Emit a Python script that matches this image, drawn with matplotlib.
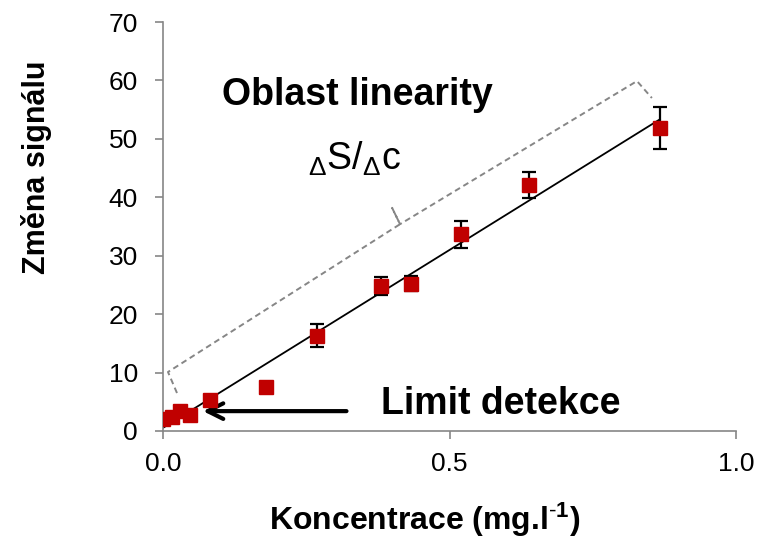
import numpy as np
import matplotlib as mlib
mlib.use('Agg')
import matplotlib.pyplot as plt

mlib.rcParams.update({'font.family': ['Liberation Sans', 'DejaVu Sans']})
mlib.rcParams.update({'mathtext.fontset': 'custom',
                      'mathtext.default': 'regular',
                      'mathtext.rm': 'Liberation Sans',
                      'mathtext.it': 'Liberation Sans:italic',
                      'mathtext.bf': 'Liberation Sans:bold'})

# concentration (mg/l) and signal change
konc = [0.0, 0.016, 0.030, 0.047, 0.082, 0.179, 0.269, 0.380, 0.433, 0.520, 0.639, 0.867]
signal = [2.05, 2.4, 3.4, 2.7, 5.3, 7.5, 16.3, 24.8, 25.2, 33.7, 42.1, 51.9]
err = [0, 0, 0, 0, 0, 0, 2.0, 1.6, 1.3, 2.3, 2.3, 3.6]

x_ticks = [0.0, 0.5, 1.0]
x_ticklabels = ['0.0', '0.5', '1.0']
y_ticks = [0, 10, 20, 30, 40, 50, 60, 70]

# bracket over the linear range (annotation path)
brace_x = [0.0244, 0.0087, 0.4136, 0.3997, 0.4136, 0.827, 0.853]
brace_y = [6.5, 10.1, 35.4, 38.2, 35.4, 59.9, 57.0]

RED = '#C00000'
GREY = '#868686'

fig = plt.figure(figsize=(7.66, 5.38), dpi=100)
ax = fig.add_axes([0.2128, 0.1989, 0.961 - 0.2128, 0.959 - 0.1989])

# linear trendline through all points
k, q = np.polyfit(konc, signal, 1)
xfit = np.array([0.0, max(konc)])
ax.plot(xfit, k * xfit + q, color='black', lw=1.3, zorder=2)

ax.plot(brace_x, brace_y, color=GREY, lw=1.4, ls=(0, (3, 2)), zorder=1)

yerr = np.array(err)
ax.errorbar(konc, signal, yerr=np.where(yerr > 0, yerr, np.nan), fmt='none',
            ecolor='black', elinewidth=1.6, capsize=5, capthick=1.6, zorder=3)
ax.plot(konc, signal, 's', color=RED, markersize=10.5, zorder=4)

ax.annotate('', xy=(0.065, 3.4), xytext=(0.325, 3.4),
            arrowprops=dict(arrowstyle='->', color='black', lw=3,
                            mutation_scale=28))

ax.text(0.3386, 57.5, 'Oblast linearity', fontsize=27, fontweight='bold',
        ha='center', va='center')
ax.text(0.59, 4.6, 'Limit detekce', fontsize=27, fontweight='bold',
        ha='center', va='center')
ax.text(0.335, 46.6, r'${}_{\Delta}$S/${}_{\Delta}$c', fontsize=27,
        ha='center', va='center')

ax.set_xlim(0, 1.0)
ax.set_ylim(0, 70)
ax.set_xticks(x_ticks)
ax.set_xticklabels(x_ticklabels)
ax.set_yticks(y_ticks)
for s in ['top', 'right']:
    ax.spines[s].set_visible(False)
for s in ['left', 'bottom']:
    ax.spines[s].set_color(GREY)
    ax.spines[s].set_linewidth(1.2)
ax.tick_params(axis='both', colors=GREY, labelcolor='black', labelsize=19,
               length=6, width=1.2)
ax.tick_params(axis='y', pad=12)
ax.tick_params(axis='x', pad=9)

ax.set_xlabel(r'Koncentrace (mg.l$^{\mathbf{\text{-}1}}$)', fontsize=23,
              fontweight='bold', va='baseline')
ax.xaxis.set_label_coords(0.457, -0.242)
ax.set_ylabel('Změna signálu', fontsize=22, fontweight='bold', va='center')
ax.yaxis.set_label_coords(-0.22, 0.645)

fig.savefig('out.png', dpi=100)
